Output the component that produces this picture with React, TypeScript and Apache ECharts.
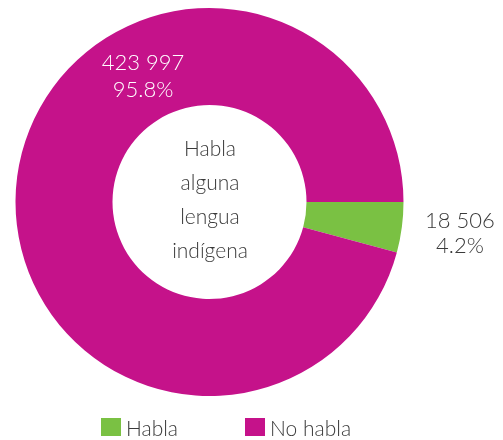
import React, { useEffect, useRef } from "react";
import * as echarts from "echarts";

const categories = ["Habla", "No habla"];
const values = [18506, 423997];
const colors = ["#7AC143", "#C5128A"];
const centerLines = ["Habla", "alguna", "lengua", "indígena"];

function fmtNum(n: number): string {
  return String(n).replace(/\B(?=(\d{3})+(?!\d))/g, " ");
}

export default function App() {
  const ref = useRef<HTMLDivElement>(null);
  useEffect(() => {
    if (!ref.current) return;
    const chart = echarts.init(ref.current, null, { renderer: "svg" });
    const font = "Lato";
    chart.setOption({
      animation: false,
      color: colors,
      textStyle: { fontFamily: font },
      legend: {
        data: categories,
        left: 96,
        top: 411,
        padding: 5,
        itemWidth: 20,
        itemHeight: 18,
        itemGap: 67,
        icon: "rect",
        textStyle: { fontSize: 21, color: "#3a3a3a", fontFamily: font, fontWeight: 300, lineHeight: 22 },
        selectedMode: false,
      },
      graphic: [
        {
          type: "text",
          x: 210,
          y: 198,
          style: {
            text: centerLines.join("\n"),
            textAlign: "center",
            textVerticalAlign: "middle",
            fontSize: 21,
            fontWeight: 300,
            lineHeight: 34,
            fill: "#3a3a3a",
            fontFamily: font,
          },
        },
      ],
      series: [
        {
          type: "pie",
          center: [209.5, 202],
          radius: [97, 194],
          startAngle: 0,
          clockwise: true,
          percentPrecision: 1,
          silent: true,
          emphasis: { disabled: true },
          labelLine: { show: false },
          data: categories.map((c, i) => ({
            name: c,
            value: values[i],
            label: {
              show: true,
              position: "inside",
              overflow: "none",
              color: i === 0 ? "#3a3a3a" : "#ffffff",
              fontSize: 22,
              fontWeight: 300,
              lineHeight: i === 0 ? 25 : 27,
              fontFamily: font,
              align: "center",
            },
          })),
          label: {
            formatter: (p: any) => fmtNum(p.value) + "\n" + p.percent.toFixed(1) + "%",
          },
          labelLayout: (p: any) =>
            p.dataIndex === 0
              ? { x: 460, y: 232, align: "center", verticalAlign: "middle" }
              : { x: 143, y: 75, align: "center", verticalAlign: "middle" },
        },
      ],
    });
    return () => chart.dispose();
  }, []);
  return (
    <div
      ref={ref}
      style={{ position: "fixed", left: 0, top: 0, width: 503, height: 440 }}
    />
  );
}
